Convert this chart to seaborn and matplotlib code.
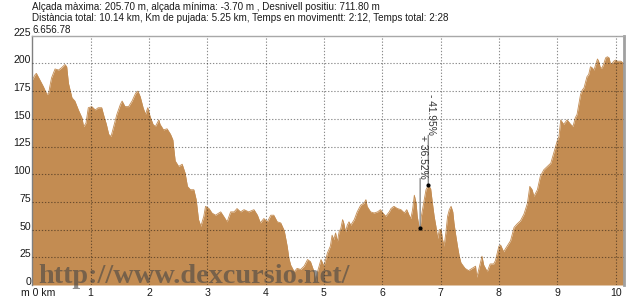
import matplotlib
matplotlib.use("Agg")
import matplotlib.pyplot as plt
import matplotlib.transforms as mtransforms
import seaborn as sns
import pandas as pd

# ---------------- data ----------------
km = [0.00, 0.05, 0.07, 0.13, 0.19, 0.25, 0.28, 0.30, 0.33, 0.39, 0.45, 0.50, 0.56, 0.59,
      0.62, 0.68, 0.73, 0.79, 0.85, 0.88, 0.92, 0.96, 1.02, 1.08, 1.13, 1.19, 1.22, 1.27,
      1.31, 1.35, 1.39, 1.45, 1.51, 1.54, 1.59, 1.65, 1.71, 1.77, 1.81, 1.85, 1.90, 1.94,
      1.98, 2.02, 2.07, 2.11, 2.17, 2.19, 2.25, 2.31, 2.37, 2.41, 2.45, 2.51, 2.57, 2.62,
      2.66, 2.71, 2.77, 2.81, 2.85, 2.89, 2.94, 2.97, 3.03, 3.08, 3.14, 3.23, 3.28, 3.34,
      3.40, 3.46, 3.51, 3.57, 3.63, 3.71, 3.80, 3.86, 3.91, 3.97, 4.03, 4.09, 4.14, 4.20,
      4.26, 4.32, 4.37, 4.40, 4.43, 4.49, 4.54, 4.60, 4.66, 4.72, 4.77, 4.83, 4.86, 4.89,
      4.95, 5.00, 5.06, 5.11, 5.14, 5.17, 5.20, 5.23, 5.26, 5.29, 5.32, 5.34, 5.37, 5.40,
      5.43, 5.46, 5.52, 5.57, 5.63, 5.69, 5.72, 5.74, 5.80, 5.86, 5.92, 5.97, 6.01, 6.06,
      6.12, 6.15, 6.20, 6.26, 6.32, 6.38, 6.42, 6.46, 6.49, 6.52, 6.55, 6.58, 6.60, 6.63,
      6.65, 6.67, 6.71, 6.75, 6.79, 6.83, 6.86, 6.89, 6.92, 6.95, 6.98, 7.01, 7.03, 7.06,
      7.09, 7.12, 7.15, 7.18, 7.21, 7.23, 7.26, 7.29, 7.32, 7.35, 7.42, 7.48, 7.54, 7.60,
      7.62, 7.65, 7.71, 7.74, 7.80, 7.85, 7.91, 7.94, 8.00, 8.03, 8.08, 8.14, 8.20, 8.23,
      8.26, 8.31, 8.37, 8.43, 8.49, 8.53, 8.57, 8.60, 8.63, 8.66, 8.71, 8.77, 8.83, 8.89,
      8.94, 9.00, 9.03, 9.06, 9.11, 9.17, 9.23, 9.27, 9.31, 9.34, 9.37, 9.40, 9.43, 9.46,
      9.49, 9.51, 9.54, 9.57, 9.60, 9.63, 9.66, 9.69, 9.71, 9.74, 9.77, 9.80, 9.83, 9.86,
      9.89, 9.91, 9.94, 9.97, 10.00, 10.03, 10.09, 10.14]
elev = [185, 190, 191, 185, 179, 172, 173, 179, 187, 195, 194, 196, 199, 197,
        182, 169, 166, 158, 151, 143, 146, 160, 161, 158, 160, 160, 154, 145,
        136, 134, 142, 154, 163, 166, 161, 161, 166, 173, 175, 170, 160, 154,
        160, 152, 145, 143, 149, 145, 140, 141, 136, 131, 112, 107, 109, 101,
        89, 86, 86, 77, 59, 53, 62, 71, 69, 65, 63, 66, 62, 57,
        66, 66, 69, 66, 68, 66, 68, 63, 56, 60, 57, 63, 63, 57,
        56, 49, 35, 24, 18, 12, 15, 14, 17, 23, 21, 12, 3, 12,
        23, 17, 29, 35, 45, 41, 47, 39, 48, 51, 59, 56, 48, 54,
        57, 54, 59, 66, 72, 74, 77, 71, 66, 65, 66, 68, 65, 62,
        66, 69, 71, 69, 68, 65, 68, 63, 60, 68, 81, 74, 62, 53,
        51, 62, 74, 86, 90, 87, 74, 62, 53, 42, 50, 50, 42, 35,
        47, 62, 68, 71, 66, 56, 45, 35, 26, 20, 15, 13, 15, 17,
        7, 13, 26, 18, 12, 19, 19, 22, 35, 36, 30, 35, 40, 46,
        52, 55, 58, 64, 74, 89, 86, 80, 83, 86, 98, 104, 107, 110,
        119, 130, 134, 149, 145, 149, 145, 143, 151, 154, 163, 172, 176, 178,
        184, 188, 190, 197, 196, 194, 199, 204, 202, 196, 196, 200, 205, 206,
        205, 200, 200, 202, 203, 202, 202, 200]

ann_km = [6.65, 6.79]
ann_elev = [51, 90]
ann_text = ["+ 36.52%", "- 41.95%"]

xticks = list(range(0, 11))
xtick_labels = ["m 0 km"] + [str(i) for i in range(1, 11)]
yticks = list(range(0, 226, 25))
ytick_labels = [str(v) for v in yticks]

header1 = "Alçada màxima: 205.70 m, alçada mínima: -3.70 m , Desnivell positiu: 711.80 m"
header2 = "Distància total: 10.14 km, Km de pujada: 5.25 km, Temps en movimentt: 2:12, Temps total: 2:28"
header3 = "6.656.78"
watermark = "http://www.dexcursio.net/"

df = pd.DataFrame({"km": km, "elev": elev})

# ---------------- style ----------------
sns.set_style("white")
plt.rcParams["font.family"] = ["Liberation Sans", "DejaVu Sans"]

FILL = "#C38C52"
TXT = "#1a1a1a"

fig = plt.figure(figsize=(6.4, 3.0), dpi=100)
ax = fig.add_axes([32.3 / 640, 15 / 300, 591.4 / 640, 249.3 / 300])

sns.lineplot(data=df, x="km", y="elev", ax=ax, color=FILL, lw=0.6, zorder=1)
ax.fill_between(df["km"], 0, df["elev"], color=FILL, lw=0, zorder=1)

ax.set_xlim(0, 10.14)
ax.set_ylim(0, 225)
ax.set_xlabel("")
ax.set_ylabel("")

ax.tick_params(axis="both", length=0, labelsize=7.6, labelcolor=TXT)
ax.tick_params(axis="x", pad=2.2)
ax.tick_params(axis="y", pad=1.0)
ax.set_xticks(xticks)
ax.set_xticklabels(xtick_labels)
ax.set_yticks(yticks)
ax.set_yticklabels(ytick_labels)

# grid on top of fill
ax.set_axisbelow(False)
ax.grid(True, color="black", alpha=0.45, lw=0.8, linestyle=(0, (1.2, 1.6)))
xg = ax.xaxis.get_gridlines()
yg = ax.yaxis.get_gridlines()
xg[0].set_visible(False)
yg[0].set_visible(False)
yg[-1].set_visible(False)

# label offsets
up = mtransforms.ScaledTranslation(0, 4 / 100, fig.dpi_scale_trans)
for lab in ax.get_yticklabels():
    lab.set_transform(lab.get_transform() + up)
first = ax.get_xticklabels()[0]
first.set_ha("left")
first.set_transform(first.get_transform() +
                    mtransforms.ScaledTranslation(-11.6 / 100, 0, fig.dpi_scale_trans))

# spines
for s in ["left", "top", "right", "bottom"]:
    ax.spines[s].set_visible(True)
ax.spines["left"].set_color("#808080")
ax.spines["left"].set_linewidth(1.0)
ax.spines["top"].set_color("#a8a8a8")
ax.spines["top"].set_linewidth(1.0)
ax.spines["right"].set_color("#a0a0a0")
ax.spines["right"].set_linewidth(2.0)
ax.spines["bottom"].set_visible(False)

# annotations
ax.scatter(ann_km, ann_elev, s=9, color="black", zorder=6, lw=0)
for k, e, t in zip(ann_km, ann_elev, ann_text):
    ax.annotate("", xy=(k, e), xytext=(0, 36), textcoords="offset points",
                arrowprops=dict(arrowstyle="-", color="#8c8c8c", lw=1.0,
                                shrinkA=0, shrinkB=0), zorder=5)
    ax.annotate(t, xy=(k, e), xytext=(1.7, 36), textcoords="offset points",
                rotation=-90, ha="center", va="bottom", fontsize=7.4,
                color="#333333", zorder=6)

# watermark
ax.text(0.0096, 0.010, watermark, transform=ax.transAxes,
        family=["Liberation Serif", "DejaVu Serif"], weight="bold", fontsize=20.3,
        color="#454545", alpha=0.6, ha="left", va="baseline", zorder=4)

# header texts
fig.text(32.3 / 640, 1 - 10 / 300, header1, fontsize=7.1, color=TXT, va="baseline")
fig.text(32.3 / 640, 1 - 21 / 300, header2, fontsize=7.1, color=TXT, va="baseline")
fig.text(32.3 / 640, 1 - 33 / 300, header3, fontsize=7.1, color=TXT, va="baseline")

fig.savefig("out.png", dpi=100)
